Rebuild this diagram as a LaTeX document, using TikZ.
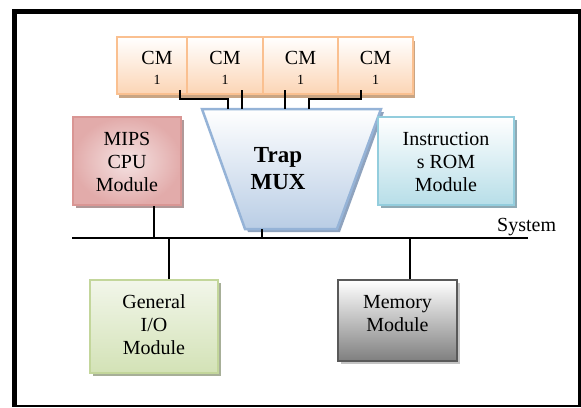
\documentclass[tikz,border=0pt]{standalone}
\usepackage{fontspec}
\setmainfont{Liberation Serif}
\usetikzlibrary{shadows}
\definecolor{orbord}{HTML}{FAC090}
\definecolor{orfill}{HTML}{FCD5B5}
\definecolor{orshad}{HTML}{C9A584}
\definecolor{rdbord}{HTML}{D99694}
\definecolor{rddark}{HTML}{E2ABAA}
\definecolor{rdlight}{HTML}{F5E3E3}
\definecolor{rdshad}{HTML}{B09898}
\definecolor{bubord}{HTML}{95B3D7}
\definecolor{bufill}{HTML}{B9CDE5}
\definecolor{bushad}{HTML}{8FA3BE}
\definecolor{cybord}{HTML}{93CDDD}
\definecolor{cyfill}{HTML}{B7DEE8}
\definecolor{cyshad}{HTML}{8FAAB4}
\definecolor{gnbord}{HTML}{C3D69B}
\definecolor{gntop}{HTML}{F2F6EA}
\definecolor{gnfill}{HTML}{D3E2B6}
\definecolor{gnshad}{HTML}{A7AF98}
\definecolor{gybord}{HTML}{595959}
\definecolor{gyfill}{HTML}{7F7F7F}
\definecolor{gyshad}{HTML}{C4C4C4}
\newcommand{\mlines}[2]{\raisebox{#1}[\height][\depth]{\begin{tabular}{@{}c@{}}#2\end{tabular}}}
\newcommand{\cmtext}{\mlines{-4pt}{CM\\[-3pt]{\fontsize{14}{14}\selectfont 1}}}
\begin{document}
\begin{tikzpicture}[x=1pt,y=-1pt,
  font=\fontsize{20}{23}\selectfont,
  box/.style={draw, line width=2pt, anchor=north west, inner sep=0pt},
  cmbox/.style={box, draw=orbord, top color=white, bottom color=orfill, minimum height=57pt,
    drop shadow={shadow xshift=2pt, shadow yshift=-4pt, fill=orshad, opacity=1}},
  wire/.style={line width=1.6pt, black},
  bus/.style={line width=2pt, black}]
\useasboundingbox (0,0) rectangle (581,407);
% frame
\fill[black] (12,9) rectangle (581,14);
\fill[black] (12,9) rectangle (17,407);
\fill[black] (578,9) rectangle (581,407);
\fill[black] (12,405) rectangle (581,407);

% CM boxes
\node[cmbox, minimum width=80pt] (cm1) at (116,36) {\cmtext};
\node[cmbox, minimum width=76pt] (cm2) at (186,36) {\cmtext};
\node[cmbox, minimum width=75pt] (cm3) at (262,36) {\cmtext};
\node[cmbox, minimum width=75pt] (cm4) at (337,36) {\cmtext};

% trapezoid MUX
\coordinate (mtl) at (202,109);
\coordinate (mtr) at (381,109);
\coordinate (mbr) at (337,229);
\coordinate (mbl) at (245,229);
\fill[bushad] ([shift={(3pt,-3pt)}]mtl) -- ([shift={(3pt,-3pt)}]mtr) -- ([shift={(3pt,-3pt)}]mbr) -- ([shift={(3pt,-3pt)}]mbl) -- cycle;
\shade[top color=white, bottom color=bufill] (mtl) -- (mtr) -- (mbr) -- (mbl) -- cycle;
\draw[bubord, line width=2.5pt, line join=miter] (mtl) -- (mtr) -- (mbr) -- (mbl) -- cycle;
\node[font=\bfseries\fontsize{23}{27}\selectfont, align=center] (mux) at (278,169) {Trap\\MUX};

% CM connectors
\coordinate (j1) at (228,99);
\coordinate (j4) at (309,99);
\draw[wire] ([xshift=23pt,yshift=5pt]cm1.south) |- (j1) -- (j1 |- mtl);
\draw[wire] ([xshift=17pt,yshift=5pt]cm2.south) -- ([xshift=17pt]cm2.south |- mtl);
\draw[wire] ([xshift=-15.5pt,yshift=5pt]cm3.south) -- ([xshift=-15.5pt]cm3.south |- mtl);
\draw[wire] ([xshift=-14.5pt,yshift=5pt]cm4.south) |- (j4) -- (j4 |- mtl);

% modules
\node[box, draw=rdbord, minimum width=108pt, minimum height=88pt,
  inner color=rdlight, outer color=rddark,
  drop shadow={shadow xshift=3pt, shadow yshift=-3pt, fill=rdshad, opacity=1}] (mips) at (72,116) {\mlines{-3pt}{MIPS\\CPU\\Module}};
\node[box, draw=cybord, minimum width=136pt, minimum height=88pt,
  top color=white, bottom color=cyfill,
  drop shadow={shadow xshift=3pt, shadow yshift=-3pt, fill=cyshad, opacity=1}] (instr) at (377,116) {\mlines{-3pt}{Instruction\\s ROM\\Module}};
\node[box, draw=gnbord, minimum width=128pt, minimum height=93pt,
  top color=gntop, bottom color=gnfill,
  drop shadow={shadow xshift=3pt, shadow yshift=-3pt, fill=gnshad, opacity=1}] (gen) at (89,279) {\mlines{0pt}{General\\I/O\\Module}};
\node[box, draw=gybord, minimum width=119pt, minimum height=81pt,
  top color=white, bottom color=gyfill,
  drop shadow={shadow xshift=3pt, shadow yshift=-3pt, fill=gyshad, opacity=1}] (mem) at (337,279) {\mlines{5pt}{Memory\\Module}};

% bus
\coordinate (busL) at (72,238);
\coordinate (busR) at (528,238);
\draw[bus] (busL) -- (busR);
\node[anchor=base west, inner sep=0pt] (sys) at (497,231) {System};

\draw[wire] (262,229) coordinate (mstem) -- (mstem |- busL);
\draw[wire] ([xshift=27pt]mips.south) -- ([xshift=27pt]mips.south |- busL);
\draw[wire] ([xshift=15pt]gen.north) -- ([xshift=15pt]gen.north |- busL);
\draw[wire] ([xshift=12.5pt]mem.north) -- ([xshift=12.5pt]mem.north |- busL);
\end{tikzpicture}
\end{document}
